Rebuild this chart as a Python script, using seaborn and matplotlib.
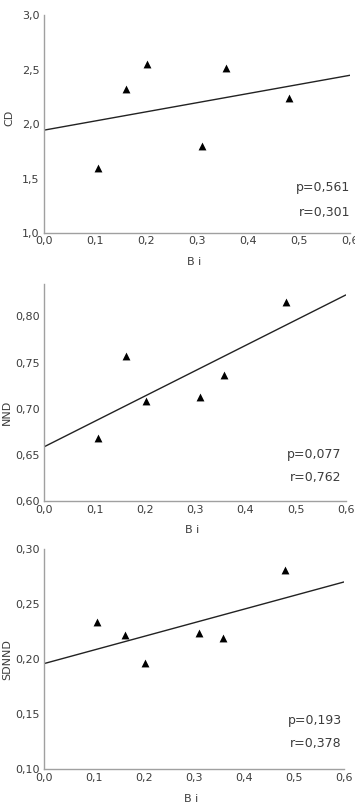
import matplotlib
matplotlib.use("Agg")
import matplotlib.pyplot as plt
import matplotlib.ticker as mticker
import seaborn as sns
import pandas as pd

sns.set_theme(style="white")
plt.rcParams['font.family'] = ['DejaVu Sans']

# Bi values (same stations in all three panels)
bi = [0.107, 0.162, 0.203, 0.310, 0.358, 0.481]

cd = [1.60, 2.32, 2.55, 1.80, 2.51, 2.24]
nnd = [0.668, 0.757, 0.708, 0.713, 0.736, 0.815]
sdnnd = [0.234, 0.222, 0.197, 0.224, 0.219, 0.281]

y_names = ['CD', 'NND', 'SDNND']
p_values = ['0,561', '0,077', '0,193']
r_values = ['0,301', '0,762', '0,378']
y_limits = [(1.0, 3.0), (0.60, 0.835), (0.10, 0.30)]
y_ticks = [[1.0, 1.5, 2.0, 2.5, 3.0],
           [0.60, 0.65, 0.70, 0.75, 0.80],
           [0.10, 0.15, 0.20, 0.25, 0.30]]
y_decimals = [1, 2, 2]
x_ticks = [0.0, 0.1, 0.2, 0.3, 0.4, 0.5, 0.6]

df = pd.DataFrame({'Bi': bi, 'CD': cd, 'NND': nnd, 'SDNND': sdnnd})

# axes boxes [left, bottom, width, height] in figure fraction
boxes = [[0.123, 0.7127, 0.863, 0.2688],
         [0.125, 0.3822, 0.849, 0.2676],
         [0.123, 0.0514, 0.847, 0.2713]]
text_x = [1.0, 0.987, 0.991]
text_y = [(0.211, 0.096), (0.215, 0.109), (0.223, 0.118)]
ylabel_pos = [(-0.094, 0.53), (-0.107, 0.41), (-0.105, 0.50)]

text_color = '#3c3c3c'
spine_color = '#a0a0a0'

fig = plt.figure(figsize=(3.55, 8.11), dpi=100)

for i, name in enumerate(y_names):
    ax = fig.add_axes(boxes[i])
    ax.set_xlim(0, 0.6)
    ax.set_ylim(*y_limits[i])
    sns.regplot(data=df, x='Bi', y=name, ax=ax, ci=None, truncate=False,
                marker='^', color='black',
                scatter_kws={'s': 32, 'linewidths': 0, 'alpha': 1, 'zorder': 3},
                line_kws={'color': '#222222', 'linewidth': 1.0})
    ax.set_xlim(0, 0.6)
    ax.set_ylim(*y_limits[i])

    ax.set_xticks(x_ticks)
    ax.set_yticks(y_ticks[i])
    ax.xaxis.set_major_formatter(mticker.FuncFormatter(
        lambda v, pos: f"{v:.1f}".replace('.', ',')))
    d = y_decimals[i]
    ax.yaxis.set_major_formatter(mticker.FuncFormatter(
        lambda v, pos, d=d: f"{v:.{d}f}".replace('.', ',')))
    ax.tick_params(axis='x', length=0, pad=2.5, labelsize=8,
                   labelcolor=text_color)
    ax.tick_params(axis='y', length=0, pad=3, labelsize=8,
                   labelcolor=text_color)

    for side in ['top', 'right']:
        ax.spines[side].set_visible(False)
    for side in ['left', 'bottom']:
        ax.spines[side].set_color(spine_color)
        ax.spines[side].set_linewidth(1.0)

    ax.set_xlabel('B i', fontsize=8, color=text_color)
    ax.xaxis.set_label_coords(0.49, -0.112)
    ax.set_ylabel(name, fontsize=8, color=text_color)
    ax.yaxis.set_label_coords(*ylabel_pos[i])

    ax.text(text_x[i], text_y[i][0], f"p={p_values[i]}", transform=ax.transAxes,
            ha='right', va='center', fontsize=9, color=text_color)
    ax.text(text_x[i], text_y[i][1], f"r={r_values[i]}", transform=ax.transAxes,
            ha='right', va='center', fontsize=9, color=text_color)

fig.savefig('out.png', dpi=100)
